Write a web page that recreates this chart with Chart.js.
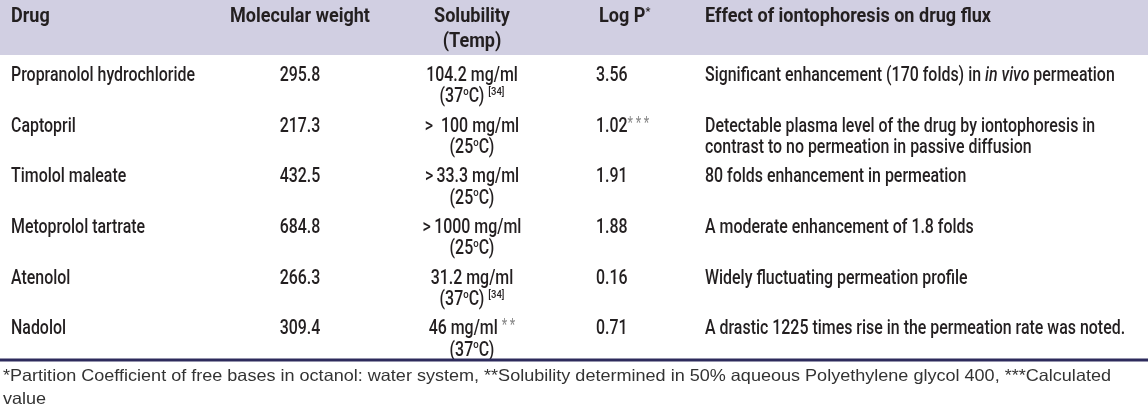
<!DOCTYPE html>
<html><head><meta charset="utf-8">
<script src="https://cdn.jsdelivr.net/npm/chart.js@4.4.1/dist/chart.umd.min.js"></script>
<style>html,body{margin:0;padding:0;background:#fff;}canvas{display:block;}</style>
</head><body>
<canvas id="c" width="1148" height="411"></canvas>
<script>
// ---------- DATA ----------
const headerDrug = "Drug";
const headerMW = "Molecular weight";
const headerSol = ["Solubility", "(Temp)"];
const headerLogP = "Log P<sup>*</sup>";
const headerEffect = "Effect of iontophoresis on drug flux";

const drugs = ["Propranolol hydrochloride", "Captopril", "Timolol maleate", "Metoprolol tartrate", "Atenolol", "Nadolol"];
const molecularWeights = ["295.8", "217.3", "432.5", "684.8", "266.3", "309.4"];
const solubility = ["104.2 mg/ml", ">  100 mg/ml", ">\u200933.3 mg/ml", ">\u20091000 mg/ml", "31.2 mg/ml", "46 mg/ml <note>*\u2009*</note>"];
const solubilityTemp = ["(37<sup>o</sup>C) <sup>[34]</sup>", "(25<sup>o</sup>C)", "(25<sup>o</sup>C)", "(25<sup>o</sup>C)", "(37<sup>o</sup>C) <sup>[34]</sup>", "(37<sup>o</sup>C)"];
const logP = ["3.56", "1.02<note>*\u2009*\u2009*</note>", "1.91", "1.88", "0.16", "0.71"];
const effects = [
  ["Significant enhancement (170 folds) in <i>in vivo</i> permeation"],
  ["Detectable plasma level of the drug by iontophoresis in", "contrast to no permeation in passive diffusion"],
  ["80 folds enhancement in permeation"],
  ["A moderate enhancement of 1.8 folds"],
  ["Widely fluctuating permeation profile"],
  ["A drastic 1225 times rise in the permeation rate was noted."]
];
const footnotes = [
  "*Partition Coefficient of free bases in octanol: water system, **Solubility determined in 50% aqueous Polyethylene glycol 400, ***Calculated",
  "value"
];

// ---------- STYLE / LAYOUT ----------
const COL = { drug: 11, mw: 300, sol: 472, logp: 596, effect: 705 };
const TABLE_FONT = 'Roboto,"Liberation Sans Narrow","DejaVu Sans Condensed",sans-serif';
const NOTE_FONT = '"Liberation Sans",Arial,"DejaVu Sans",sans-serif';
const TEXT = '#231f20', NOTE_GRAY = '#8a8a8a', HEAD_BG = '#d1cfe2', RULE = '#2d2b5c', FOOT = '#333333';
const BODY_SIZE = 19.5, HEAD_SIZE = 19.5, LINE_GAP = 21.5;
const BODY_WEIGHT = '500', HEAD_WEIGHT = 'bold';

function parseRich(str) {
  const re = /<(sup|i|note)>(.*?)<\/\1>/g;
  const segs = []; let last = 0, m;
  while ((m = re.exec(str))) {
    if (m.index > last) segs.push({ t: str.slice(last, m.index), s: 'n' });
    segs.push({ t: m[2], s: m[1] });
    last = re.lastIndex;
  }
  if (last < str.length) segs.push({ t: str.slice(last), s: 'n' });
  return segs;
}
function segFont(seg, size, weight, family) {
  if (seg.s === 'sup') return { font: `${weight} ${size * 0.6}px ${family}`, dy: -size * 0.38, color: null };
  if (seg.s === 'note') return { font: `normal ${size * 0.8}px ${family}`, dy: -size * 0.2, color: NOTE_GRAY };
  if (seg.s === 'i') return { font: `italic ${weight} ${size}px ${family}`, dy: 0, color: null };
  return { font: `${weight} ${size}px ${family}`, dy: 0, color: null };
}
function drawRich(ctx, str, x, baseline, align, opt) {
  const segs = parseRich(str);
  let w = 0;
  const parts = segs.map(s => {
    const f = segFont(s, opt.size, opt.weight, opt.family);
    ctx.font = f.font;
    const mw = ctx.measureText(s.t).width;
    w += mw;
    return { s, f, mw };
  });
  const sx = opt.stretch || 1;
  let x0 = x;
  if (align === 'center') x0 = x - w * sx / 2;
  else if (align === 'right') x0 = x - w * sx;
  ctx.save();
  ctx.translate(x0, baseline);
  ctx.scale(sx, 1);
  ctx.textBaseline = 'alphabetic';
  ctx.textAlign = 'left';
  let cx = 0;
  parts.forEach(p => {
    ctx.font = p.f.font;
    ctx.fillStyle = p.f.color || opt.color;
    ctx.fillText(p.s.t, cx, p.f.dy);
    cx += p.mw;
  });
  ctx.restore();
}

const tablePlugin = {
  id: 'tablePlugin',
  beforeDraw(chart) {
    const ctx = chart.ctx;
    const xs = chart.scales.x, ys = chart.scales.y;
    const W = chart.width;
    ctx.save();
    ctx.fillStyle = HEAD_BG;
    ctx.fillRect(xs.getPixelForValue(0), 0, xs.getPixelForValue(1148) - xs.getPixelForValue(0), 55);
    ctx.restore();

    // width calibration so the face matches the original condensed type
    ctx.font = `${BODY_WEIGHT} ${BODY_SIZE}px ${TABLE_FONT}`;
    const bodyStretch = 184 / ctx.measureText(drugs[0]).width;
    ctx.font = `${HEAD_WEIGHT} ${HEAD_SIZE}px ${TABLE_FONT}`;
    const headStretch = 286 / ctx.measureText(headerEffect).width;
    ctx.font = `normal 16.5px ${NOTE_FONT}`;
    const footStretch = 1108 / ctx.measureText(footnotes[0]).width;

    const head = { size: HEAD_SIZE, weight: HEAD_WEIGHT, family: TABLE_FONT, color: TEXT, stretch: headStretch };
    const hb1 = 22, hb2 = 47;
    drawRich(ctx, headerDrug, xs.getPixelForValue(COL.drug), hb1, 'left', head);
    drawRich(ctx, headerMW, xs.getPixelForValue(COL.mw), hb1, 'center', head);
    drawRich(ctx, headerSol[0], xs.getPixelForValue(COL.sol), hb1, 'center', head);
    drawRich(ctx, headerSol[1], xs.getPixelForValue(COL.sol), hb2, 'center', head);
    drawRich(ctx, headerLogP, xs.getPixelForValue(COL.logp) + 3, hb1, 'left', head);
    drawRich(ctx, headerEffect, xs.getPixelForValue(COL.effect), hb1, 'left', head);

    const body = { size: BODY_SIZE, weight: BODY_WEIGHT, family: TABLE_FONT, color: TEXT, stretch: bodyStretch };
    const capHalf = BODY_SIZE * 0.355;
    drugs.forEach((d, i) => {
      const b = ys.getPixelForValue(i) + capHalf;
      drawRich(ctx, d, xs.getPixelForValue(COL.drug), b, 'left', body);
      drawRich(ctx, molecularWeights[i], xs.getPixelForValue(COL.mw), b, 'center', body);
      drawRich(ctx, solubility[i], xs.getPixelForValue(COL.sol), b, 'center', body);
      drawRich(ctx, solubilityTemp[i], xs.getPixelForValue(COL.sol), b + LINE_GAP, 'center', body);
      drawRich(ctx, logP[i], xs.getPixelForValue(COL.logp), b, 'left', body);
      effects[i].forEach((line, k) => drawRich(ctx, line, xs.getPixelForValue(COL.effect), b + k * LINE_GAP, 'left', body));
    });

    const ruleY = 360;
    ctx.save();
    ctx.fillStyle = RULE;
    ctx.fillRect(0, ruleY - 1.5, W, 3);
    ctx.restore();

    const foot = { size: 16.5, weight: 'normal', family: NOTE_FONT, color: FOOT, stretch: footStretch };
    drawRich(ctx, footnotes[0], 3, ruleY + 21, 'left', foot);
    drawRich(ctx, footnotes[1], 3, ruleY + 44, 'left', foot);
  }
};

new Chart(document.getElementById('c'), {
  type: 'bar',
  data: { labels: drugs, datasets: [{ data: [], backgroundColor: 'rgba(0,0,0,0)' }] },
  options: {
    indexAxis: 'y',
    responsive: false,
    animation: false,
    events: [],
    layout: { padding: { top: 48.6, bottom: 58.2, left: 0, right: 0 } },
    plugins: { legend: { display: false }, tooltip: { enabled: false }, title: { display: false } },
    scales: {
      x: { type: 'linear', min: 0, max: 1148, display: false },
      y: { type: 'category', offset: true, display: false, grid: { display: false } }
    }
  },
  plugins: [tablePlugin]
});
</script>
</body></html>
